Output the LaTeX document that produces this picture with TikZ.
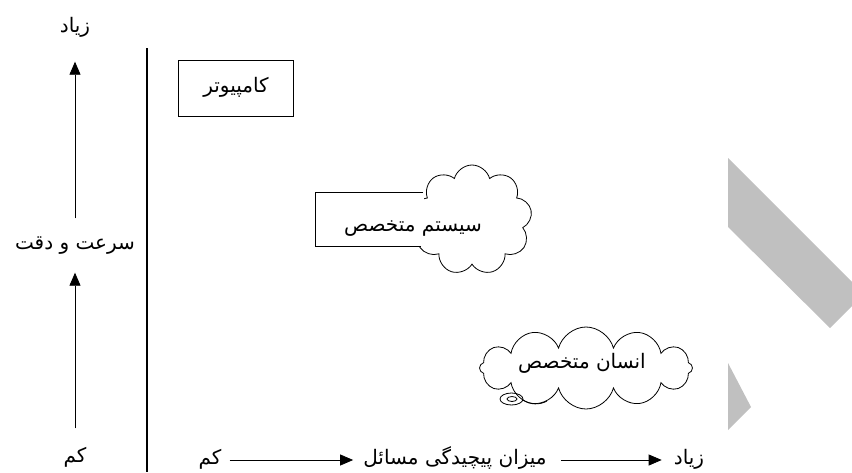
\documentclass[tikz,border=0pt]{standalone}
\usepackage{fontspec}
\usetikzlibrary{arrows.meta,shapes.symbols}
\newfontfamily\fafont[Script=Arabic]{DejaVu Sans}
\TeXXeTstate=1
\definecolor{bandgray}{RGB}{192,192,192}
\tikzset{
  lbl/.style={font=\fafont\fontsize{20}{24}\selectfont, inner sep=2pt, text height=14pt, text depth=5pt},
  arr/.style={-{Triangle[length=13pt,width=11pt]}, thick},
  puff/.style={cloud, cloud ignores aspect, draw, thick, fill=white}
}
\begin{document}
\begin{tikzpicture}[x=1pt,y=-1pt]
    \useasboundingbox (0,0) rectangle (852,472);

    % speed axis
    \node (hi) at (75,28) [lbl] {\beginR زیاد\endR};
    \node (spd) at (75,245) [lbl] {\beginR سرعت و دقت\endR};
    \node (lo) at (75,458) [lbl] {\beginR کم\endR};
    \draw [arr, shorten <=15pt, shorten >=22pt] (spd) -- (hi);
    \draw [arr, shorten <=18pt, shorten >=16pt] (lo) -- (spd);

    % divider
    \draw [very thick] (147,48) -- (147,472);

    % computer
    \node (comp) at (236,88) [draw, thick, minimum width=115pt, minimum height=56pt] {};
    \node (comptxt) at (comp) [lbl] {\beginR کامپیوتر\endR};

    % expert system
    \node (syscloud) at (472,220) [puff, cloud puffs=9, minimum width=120pt, minimum height=110pt] {};
    \node (sysbox) at (370,219.5) [fill=white, minimum width=108pt, minimum height=54pt] {};
    \draw [thick] ([xshift=-1pt]sysbox.north east) -- (sysbox.north west) -- (sysbox.south west) -- ([xshift=-3pt]sysbox.south east);
    \node (systxt) at (413,227) [lbl] {\beginR سیستم متخصص\endR};

    % human expert
    \node (humcloud) at (586,368) [puff, cloud puffs=12, minimum width=213pt, minimum height=82pt] {};
    \node (humtxt) at (582,364) [lbl] {\beginR انسان متخصص\endR};
    \draw [thick] (511.5,399) ellipse (11.5pt and 6pt);
    \draw [thick] (512,399) ellipse (5pt and 2.5pt);
    \draw [thick] (523,400) .. controls (530,405) and (540,405) .. (547,401);

    % arrow band
    \fill [bandgray] (728,158) -- (852,282) -- (852,306) -- (830,328) -- (728,227) -- cycle;
    \fill [bandgray] (728,363) -- (751,407) -- (728,430) -- cycle;

    % complexity axis
    \node (lox) at (210,460) [lbl] {\beginR کم\endR};
    \node (cpx) at (455,460) [lbl] {\beginR میزان پیچیدگی مسائل\endR};
    \node (hix) at (689,460) [lbl] {\beginR زیاد\endR};
    \draw [arr, shorten <=6pt, shorten >=8pt] (lox) -- (cpx);
    \draw [arr, shorten <=12pt, shorten >=10pt] (cpx) -- (hix);
\end{tikzpicture}
\end{document}
